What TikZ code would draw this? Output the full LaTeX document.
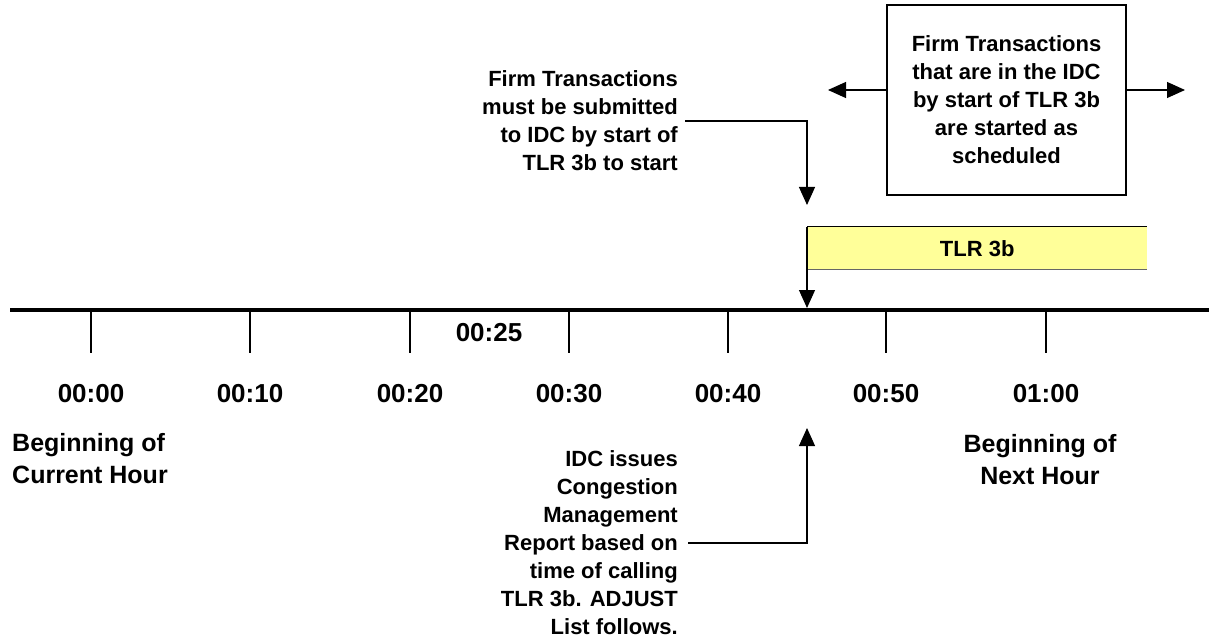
\documentclass[tikz,border=0pt]{standalone}
\usepackage{fontspec}
\setmainfont{Liberation Sans}
\usetikzlibrary{arrows.meta}
\definecolor{tlryellow}{HTML}{FFFF99}
\begin{document}
\begin{tikzpicture}[x=1pt,y=-1pt,
  lbl/.style={font=\bfseries\fontsize{22}{28}\selectfont, inner sep=0pt},
  tlbl/.style={font=\bfseries\fontsize{26}{30}\selectfont, inner sep=0pt},
  hlbl/.style={font=\bfseries\fontsize{25}{32}\selectfont, inner sep=0pt},
  conn/.style={line width=1.1pt},
  tipped/.style={-{Triangle[length=18pt,width=16pt]}},
  tickline/.style={line width=1.2pt}]
\useasboundingbox (0,0) rectangle (1209,644);
% timeline
\coordinate (tlL) at (10,310);
\coordinate (tlR) at (1209,310);
\draw[line width=4pt] (tlL) -- (tlR);
\foreach \x/\t in {91/00:00, 250/00:10, 410/00:20, 569/00:30, 728/00:40, 886/00:50, 1046/01:00} {
  \coordinate (tk\x) at (\x,310);
  \coordinate (tb\x) at (\x,353);
  \draw[tickline] (tk\x) -- (tb\x);
  \node[tlbl] (lab\x) at (\x,394) {\t};
}
\node[tlbl] (l25) at (489,333) {00:25};
% hour labels
\node[hlbl, align=left, anchor=west] (cur) at (12,459) {Beginning of\\Current Hour};
\node[hlbl, align=center] (nxt) at (1040,460) {Beginning of\\Next Hour};
% TLR 3b bar
\node[lbl, fill=tlryellow, minimum width=340pt, minimum height=42pt, anchor=north west] (tlr) at (807,227) {TLR 3b};
\draw[line width=1pt] (tlr.north west) -- (tlr.north east);
\draw[line width=1pt, black!60] (tlr.south west) -- (tlr.south east);
\coordinate (a2) at (807,308);
\draw[conn,tipped] (tlr.north west) -- (a2);
% top-left text
\node[lbl, align=right, anchor=east] (ftxt) at (678,121) {Firm Transactions\\must be submitted\\to IDC by start of\\TLR 3b to start};
\coordinate (a1) at (807,205);
\draw[conn,tipped] ([xshift=7pt]ftxt.east) -| (a1);
% bottom text
\node[lbl, align=right, anchor=east] (itxt) at (678,543) {IDC issues\\Congestion\\Management\\Report based on\\time of calling\\TLR 3b. ADJUST\\List follows.};
\coordinate (a3) at (807,428);
\draw[conn,tipped] ([xshift=10pt]itxt.east) -| (a3);
% box
\node[lbl, draw, line width=1.2pt, minimum width=239pt, minimum height=190pt, align=center] (box) at (1006.5,100) {Firm Transactions\\that are in the IDC\\by start of TLR 3b\\are started as\\scheduled};
\coordinate (bl) at (828,90);
\coordinate (br) at (1185,90);
\draw[conn,tipped] ([yshift=10pt]box.west) -- (bl);
\draw[conn,tipped] ([yshift=10pt]box.east) -- (br);
\end{tikzpicture}
\end{document}
